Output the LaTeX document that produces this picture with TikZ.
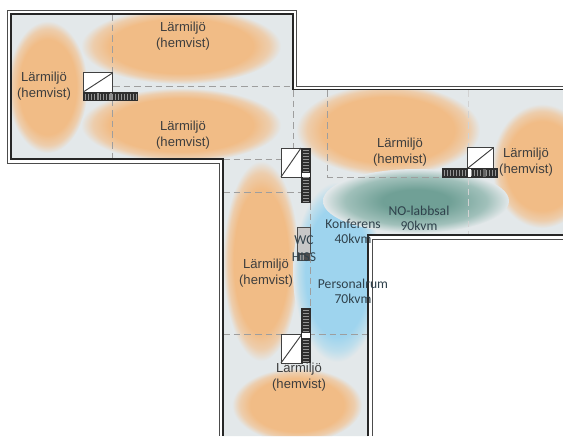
\documentclass[tikz,border=0pt]{standalone}
\usepackage{fontspec}
\setmainfont{Liberation Sans}
\newfontfamily\calfont{Carlito}
\definecolor{roomBg}{RGB}{227,232,234}
\definecolor{warm}{RGB}{241,188,134}
\definecolor{warmEdge}{RGB}{237,205,172}
\definecolor{sky}{RGB}{158,212,238}
\definecolor{skyEdge}{RGB}{190,222,236}
\definecolor{sea}{RGB}{112,160,150}
\definecolor{seaMid}{RGB}{160,192,186}
\definecolor{ink}{RGB}{62,62,62}
\definecolor{slate}{RGB}{48,66,76}
\pgfdeclareradialshading{warmblur}{\pgfpoint{0bp}{0bp}}{color(0bp)=(warm); color(18bp)=(warm); color(22bp)=(warmEdge); color(25bp)=(roomBg); color(50bp)=(roomBg)}
\pgfdeclareradialshading{skyblur}{\pgfpoint{0bp}{0bp}}{color(0bp)=(sky); color(18bp)=(sky); color(22bp)=(skyEdge); color(25bp)=(roomBg); color(50bp)=(roomBg)}
\pgfdeclareradialshading{seablur}{\pgfpoint{0bp}{0bp}}{color(0bp)=(sea); color(9bp)=(sea); color(19bp)=(seaMid); color(25bp)=(roomBg); color(50bp)=(roomBg)}
\tikzset{
  x=0.75pt,y=-0.75pt,
  wallout/.style={draw=black!70,line width=0.65pt},
  wallin/.style={draw=black!85,line width=0.95pt},
  grid/.style={draw=black!38,line width=0.5pt,dash pattern=on 5pt off 3pt},
  griddark/.style={draw=black!65,line width=0.5pt,dash pattern=on 4pt off 3pt},
  lbl/.style={font=\fontsize{9.8}{12}\selectfont,text=ink,align=center,inner sep=0pt},
  roomlbl/.style={font=\calfont\fontsize{10.2}{11.3}\selectfont,text=slate,align=center,inner sep=0pt},
  liftbox/.style={draw=black!75,line width=0.7pt,fill=white},
  stairbar/.style={fill=black!82},
  tread/.style={draw=black!42,line width=0.4pt},
}
\begin{document}
\begin{tikzpicture}
\useasboundingbox (0,0) rectangle (563,436);
\fill[white] (0,0) rectangle (563,436);
% room floor
\path[fill=roomBg] (11,14) -- (293,14) -- (293,89.5) -- (563,89.5) -- (563,235) -- (368,235) -- (368,436) -- (223,436) -- (223,159) -- (11,159) -- cycle;
% soft zones
\begin{scope}
\clip (11,14) -- (293,14) -- (293,89.5) -- (563,89.5) -- (563,235) -- (368,235) -- (368,436) -- (223,436) -- (223,159) -- (11,159) -- cycle;
\shade[shading=warmblur] (47.5,87) ellipse [x radius=40,y radius=66];
\shade[shading=warmblur] (181,46) ellipse [x radius=100,y radius=38];
\shade[shading=warmblur] (181,125) ellipse [x radius=100,y radius=37];
\shade[shading=warmblur] (388,130) ellipse [x radius=92,y radius=46];
\shade[shading=warmblur] (542,166) ellipse [x radius=50,y radius=62];
\shade[shading=warmblur] (261,261) ellipse [x radius=38,y radius=100];
\shade[shading=warmblur] (297,405) ellipse [x radius=65,y radius=37];
\shade[shading=skyblur] (337,272) ellipse [x radius=44,y radius=90];
\shade[shading=seablur] (416,201) ellipse [x radius=93,y radius=32];
\end{scope}
% dashed zone boundaries
\draw[grid] (112.5,14) -- (112.5,159);
\draw[grid] (113,86) -- (292,86);
\draw[griddark] (117,159.5) -- (222,159.5);
\draw[grid] (223,159) -- (281,159);
\draw[grid] (223,192.5) -- (301,192.5);
\draw[grid] (310.5,203) -- (310.5,308);
\draw[grid] (223,334) -- (368,334);
\draw[grid] (293,90) -- (293,148);
\draw[grid] (327.5,90) -- (327.5,177) -- (442,177);
\draw[draw=black!18,line width=0.4pt,dash pattern=on 5pt off 3pt] (468.5,90) -- (468.5,147);
\draw[draw=black!18,line width=0.4pt,dash pattern=on 5pt off 3pt] (468.5,178) -- (468.5,235);
% walls
\draw[wallout] (296,10) -- (7,10) -- (7,163) -- (219,163) -- (219,436);
\draw[wallout] (296,10) -- (296,86) -- (563,86);
\draw[wallout] (372,436) -- (372,239) -- (563,239);
\draw[wallin] (223,436) -- (223,159) -- (11,159) -- (11,14) -- (293,14) -- (293,89.5) -- (563,89.5);
\draw[wallin] (368,436) -- (368,235) -- (563,235);
% lift boxes
\draw[liftbox] (83.5,72.5) rectangle (112.5,92);
\draw[draw=black!75,line width=0.7pt] (84,91.5) -- (112.5,73);
\draw[liftbox] (281,148) rectangle (301,177);
\draw[draw=black!75,line width=0.7pt] (281,177) -- (301,148);
\draw[liftbox] (281,334) rectangle (302,363);
\draw[draw=black!75,line width=0.7pt] (281,363) -- (302,334);
\draw[liftbox] (467.5,147.5) rectangle (493,168);
\draw[draw=black!75,line width=0.7pt] (468,168) -- (493,148);
% stairs, horizontal
\fill[stairbar] (83,92) rectangle (138,101);
\foreach \i in {85,88,...,136} \draw[tread] (\i,93.5) -- (\i,99.5);
\fill[black!45] (97,93) rectangle (99,100);
\fill[black!45] (110,93) rectangle (112,100);
\fill[stairbar] (442,168) rectangle (498,178);
\foreach \i in {444,447,...,496} \draw[tread] (\i,170) -- (\i,176);
\fill[white] (467.5,169) rectangle (471,177);
\fill[white!40!black] (483,169) rectangle (486,177);
% stairs, vertical
\fill[stairbar] (301,148) rectangle (311,203);
\foreach \j in {150,153,...,201} \draw[tread] (303,\j) -- (309,\j);
\fill[white] (302,173) rectangle (310,177);
\fill[stairbar] (301,308) rectangle (311,363);
\foreach \j in {310,313,...,361} \draw[tread] (303,\j) -- (309,\j);
\fill[white] (302,333) rectangle (310,338);
% WC and lift
\draw[draw=black!70,fill=black!22,line width=0.6pt] (297.5,227.5) rectangle (310,253);
\fill[black!70] (297,253) rectangle (310,261);
\fill[black!40] (300,254.5) rectangle (304,259.5);
% labels
\node[lbl] (z1) at (44,86) {Lärmiljö\\(hemvist)};
\node[lbl] (z2) at (183,36) {Lärmiljö\\(hemvist)};
\node[lbl] (z3) at (183,135.5) {Lärmiljö\\(hemvist)};
\node[lbl] (z4) at (400,152.5) {Lärmiljö\\(hemvist)};
\node[lbl] (z5) at (526,162) {Lärmiljö\\(hemvist)};
\node[lbl] (z6) at (266,273) {Lärmiljö\\(hemvist)};
\node[lbl] (z7) at (299,377) {Lärmiljö\\(hemvist)};
\node[roomlbl] (r1) at (419,218.5) {NO-labbsal\\90kvm};
\node[roomlbl] (r2) at (353,231.5) {Konferens\\40kvm};
\node[roomlbl] (r3) at (353,291.5) {Personalrum\\70kvm};
\node[roomlbl] (w1) at (304,240) {WC};
\node[roomlbl] (w2) at (304,257) {HISS};
\end{tikzpicture}
\end{document}
